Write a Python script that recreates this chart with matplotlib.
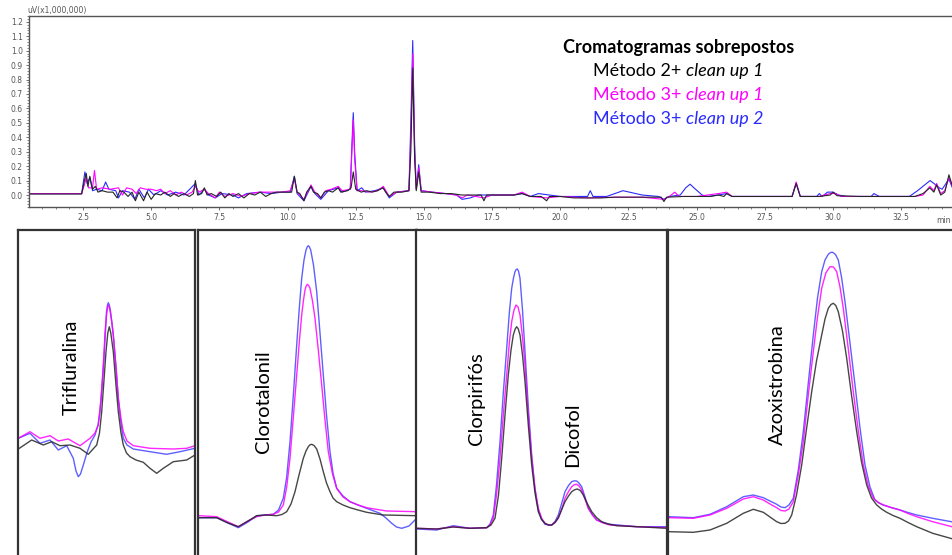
import matplotlib
matplotlib.use("Agg")
import matplotlib.pyplot as plt
from matplotlib.ticker import MultipleLocator

plt.rcParams['font.family'] = ['Lato', 'DejaVu Sans']

# ---- top chromatogram: retention time (min) and signal (uV x 1,000,000)
black_t = [0.52, 2.45, 2.55, 2.62, 2.68, 2.75, 2.85, 2.95, 3.05, 3.2, 3.4, 3.6, 3.75, 3.85, 4.0, 4.15, 4.3, 4.42, 4.55,
           4.72, 4.85, 5.0, 5.15, 5.35, 5.5, 5.7, 5.85, 6.0, 6.2, 6.4, 6.55, 6.62, 6.7, 6.85, 6.95, 7.05, 7.2, 7.4, 7.55,
           7.7, 7.85, 8.0, 8.2, 8.4, 8.6, 8.8, 9.0, 9.2, 9.4, 9.6, 9.8, 10.0, 10.15, 10.25, 10.35, 10.45, 10.6, 10.7,
           10.86, 10.95, 11.1, 11.22, 11.35, 11.5, 11.65, 11.86, 11.95, 12.2, 12.33, 12.41, 12.5, 12.7, 12.9, 13.1,
           13.3, 13.5, 13.6, 13.73, 13.9, 14.2, 14.45, 14.52, 14.59, 14.66, 14.72, 14.81, 14.9, 15.2, 15.6, 16.0, 16.4,
           16.8, 17.1, 17.2, 17.3, 17.8, 18.3, 18.6, 18.9, 19.3, 19.5, 19.6, 20.0, 20.5, 21.0, 21.5, 22.0, 22.5, 23.0,
           23.5, 23.7, 23.8, 23.9, 24.5, 25.0, 25.5, 25.8, 26.0, 26.1, 26.3, 27.0, 28.0, 28.5, 28.65, 28.8, 29.5, 29.9,
           30.0, 30.15, 31.0, 32.0, 33.0, 33.3, 33.55, 33.7, 33.8, 33.95, 34.1, 34.25, 34.4]
black_v = [0.007, 0.007, 0.10, 0.15, 0.06, 0.13, 0.04, 0.06, 0.02, 0.03, 0.02, 0.02, -0.02, 0.03, 0.02, -0.01, 0.02,
           -0.04, 0.02, -0.04, 0.02, -0.03, 0.01, 0.0, 0.02, -0.01, 0.01, -0.01, 0.01, -0.01, 0.01, 0.10, 0.0, 0.01,
           0.05, 0.0, 0.01, -0.01, 0.02, -0.02, 0.01, -0.01, 0.01, -0.02, 0.01, 0.0, 0.02, -0.01, 0.01, 0.02, 0.02, 0.02,
           0.02, 0.13, 0.02, 0.01, -0.04, 0.02, 0.06, 0.02, 0.01, -0.02, 0.02, 0.03, 0.02, 0.05, 0.02, 0.03, 0.05, 0.16,
           0.04, 0.02, 0.03, 0.02, 0.03, 0.05, 0.02, -0.01, 0.02, 0.02, 0.03, 0.30, 0.88, 0.25, 0.03, 0.16, 0.02, 0.02,
           0.01, 0.01, 0.0, 0.0, 0.0, -0.04, 0.0, 0.0, 0.0, 0.01, -0.01, -0.01, -0.04, -0.01, -0.01, -0.02, -0.02,
           -0.02, -0.015, -0.015, -0.015, -0.015, -0.015, -0.045, -0.015, -0.01, -0.01, -0.01, 0.0, -0.01, 0.01, -0.01,
           -0.01, -0.01, -0.01, 0.08, -0.01, -0.01, 0.0, 0.02, -0.005, -0.01, -0.01, -0.01, 0.01, 0.05, 0.02, 0.07,
           0.0, 0.02, 0.14, 0.05]

magenta_t = [0.52, 2.45, 2.55, 2.62, 2.7, 2.85, 2.92, 3.0, 3.2, 3.5, 3.8, 3.95, 4.1, 4.3, 4.45, 4.6, 4.8, 5.0, 5.2,
             5.35, 5.5, 5.7, 5.9, 6.1, 6.3, 6.5, 6.62, 6.75, 6.95, 7.1, 7.35, 7.5, 7.7, 8.0, 8.3, 8.6, 9.0, 9.4, 9.8,
             10.1, 10.25, 10.35, 10.6, 10.86, 11.0, 11.22, 11.4, 11.6, 11.86, 12.0, 12.3, 12.36, 12.41, 12.46, 12.55,
             12.72, 13.0, 13.3, 13.51, 13.73, 14.0, 14.45, 14.52, 14.59, 14.66, 14.72, 14.81, 14.9, 15.3, 15.8, 16.2,
             16.4, 16.6, 17.2, 17.5, 18.3, 18.6, 18.9, 19.5, 20.0, 21.0, 22.0, 23.0, 23.8, 24.0, 24.2, 24.35, 25.0, 25.8,
             26.1, 26.3, 27.5, 28.5, 28.65, 28.8, 29.5, 29.9, 30.1, 30.3, 32.0, 33.0, 33.3, 33.55, 33.7, 33.8, 33.95,
             34.1, 34.25, 34.4]
magenta_v = [0.01, 0.01, 0.07, 0.12, 0.05, 0.05, 0.17, 0.04, 0.05, 0.04, 0.05, 0.0, 0.05, 0.04, 0.01, 0.05, 0.04,
             0.04, 0.03, 0.04, 0.01, 0.03, 0.0, 0.02, 0.0, 0.02, 0.06, 0.02, 0.04, 0.01, -0.02, 0.02, -0.01, 0.01, -0.01,
             0.01, 0.02, 0.02, 0.02, 0.03, 0.11, 0.02, -0.03, 0.07, 0.02, -0.02, 0.03, 0.04, 0.06, 0.03, 0.04, 0.30,
             0.52, 0.25, 0.03, 0.03, 0.02, 0.03, 0.06, -0.01, 0.02, 0.03, 0.40, 0.98, 0.30, 0.04, 0.19, 0.03, 0.02, 0.01,
             0.0, -0.02, 0.0, -0.02, 0.0, 0.0, 0.02, -0.01, -0.02, -0.01, -0.02, -0.015, -0.015, -0.03, -0.01, 0.02,
             -0.01, -0.01, 0.01, 0.02, -0.01, -0.01, -0.01, 0.09, -0.01, -0.01, 0.01, 0.01, -0.01, -0.01, -0.01, 0.0,
             0.06, 0.03, 0.08, 0.01, 0.03, 0.12, 0.05]

blue_t = [0.52, 2.45, 2.57, 2.65, 2.75, 2.85, 3.0, 3.2, 3.33, 3.45, 3.7, 3.8, 3.95, 4.2, 4.4, 4.55, 4.75, 4.9, 5.1,
          5.35, 5.6, 5.9, 6.2, 6.62, 6.75, 6.95, 7.1, 7.35, 7.6, 8.0, 8.2, 8.5, 9.0, 9.4, 9.8, 10.1, 10.25, 10.35, 10.6,
          10.86, 11.0, 11.22, 11.5, 11.86, 12.0, 12.3, 12.36, 12.41, 12.46, 12.55, 12.72, 12.85, 13.2, 13.51, 13.73,
          14.0, 14.45, 14.52, 14.59, 14.66, 14.72, 14.81, 14.9, 15.3, 15.8, 16.2, 16.4, 16.7, 17.0, 17.5, 18.3, 18.6,
          18.9, 19.2, 19.6, 20.0, 20.5, 21.0, 21.1, 21.2, 21.7, 22.3, 23.0, 23.6, 23.8, 24.0, 24.4, 24.6, 24.76, 24.9,
          25.2, 25.4, 25.8, 26.1, 26.3, 27.5, 28.5, 28.65, 28.8, 29.4, 29.5, 29.6, 29.8, 30.0, 30.2, 30.5, 31.4, 31.5,
          31.7, 32.8, 33.1, 33.56, 33.7, 33.9, 34.0, 34.25, 34.4]
blue_v = [0.01, 0.01, 0.16, 0.08, 0.12, 0.03, 0.04, 0.03, 0.09, 0.04, 0.03, -0.02, 0.03, 0.02, -0.03, 0.04, -0.02,
          0.04, 0.0, 0.03, 0.0, 0.02, 0.0, 0.08, 0.0, 0.04, 0.0, -0.02, 0.01, 0.0, -0.02, 0.01, 0.02, 0.01, 0.02, 0.02,
          0.13, 0.01, -0.04, 0.06, 0.01, -0.03, 0.03, 0.05, 0.02, 0.04, 0.35, 0.57, 0.30, 0.03, 0.05, 0.02, 0.03, 0.05,
          -0.02, 0.02, 0.03, 0.50, 1.07, 0.35, 0.04, 0.21, 0.03, 0.02, 0.01, 0.0, -0.03, -0.02, 0.0, 0.0, 0.0, 0.01,
          -0.01, 0.01, 0.0, -0.01, -0.01, -0.01, 0.03, -0.01, -0.01, 0.03, 0.0, -0.01, -0.03, -0.01, 0.0, 0.05, 0.075,
          0.05, 0.0, -0.01, 0.0, 0.01, -0.01, -0.01, -0.01, 0.08, -0.01, -0.01, 0.01, -0.01, 0.02, 0.02, 0.0, -0.01,
          -0.01, 0.01, -0.01, -0.01, 0.03, 0.10, 0.08, 0.05, 0.04, 0.11, 0.04]

# ---- zoomed peaks (relative time, relative intensity)
peak_names = [["Trifluralina"], ["Clorotalonil"], ["Clorpirifós", "Dicofol"], ["Azoxistrobina"]]

p1_black = ([0.3, 13.7, 25.3, 33.7, 42, 52, 62, 70.3, 78.7, 81.5, 83.7, 86, 88, 89.8, 91.3, 92.8, 95.3, 97.8, 100.3,
             103, 105.3, 108.5, 112, 118, 125.3, 132, 138.7, 145.3, 155.3, 168.7, 177],
            [106, 115, 110, 113.3, 109.3, 110, 106.7, 100.7, 110, 122, 143.3, 175, 203.3, 222, 228.3, 222, 203.3,
             172, 143.3, 122, 110, 102, 98.3, 95, 92.7, 86.7, 81.7, 86.7, 93.3, 95, 100])
p1_magenta = ([0.3, 12, 22, 32, 40.3, 50.3, 62, 72, 77, 80.3, 83, 85.3, 87, 88.5, 89.5, 90.3, 91.3, 92.3, 93.8, 95.3,
               98, 100.3, 103, 105.3, 109, 115.3, 132, 155.3, 168.7, 177],
              [116.7, 123.3, 116.7, 119.3, 114, 116, 109.3, 116.7, 122, 130, 156, 190, 222, 240, 247, 250, 248, 243,
               233, 220, 188, 156.7, 136, 123.3, 114, 109.3, 106.7, 106, 106.7, 109.3])
p1_blue = ([0.3, 12, 22, 32, 40.3, 48.7, 55.3, 58, 60.3, 62.5, 65.3, 69.3, 73, 77, 80, 82, 84, 86, 87.5, 88.5, 89.5,
            90.3, 91.3, 92.3, 93.8, 95.3, 98, 100.3, 103, 105.3, 109, 115.3, 132, 148.7, 162, 177],
           [116.7, 121.7, 111.7, 115, 105, 109.3, 96.7, 84, 78.3, 81, 90, 103.3, 113, 120, 130, 143.3, 168, 196.7, 224,
            243, 250, 252.3, 250, 245, 233, 220, 188, 156.7, 132, 116.7, 110, 106, 103.3, 100.7, 103.3, 106.7])

p2_black = ([1.3, 18.7, 30, 40.3, 50, 58.7, 68, 78.7, 84, 88.7, 93, 97, 101, 105.3, 108, 110.3, 112, 113.7, 116,
             118.7, 122, 125.3, 128.5, 132, 135, 138.7, 145, 152, 160, 168.7, 185.3, 218.7],
            [37.3, 37.3, 32, 28.3, 34, 39.3, 40, 39.3, 40.5, 43.3, 51, 63.3, 80, 96.7, 104, 108.3, 110.2, 110.7, 109.5,
             106, 96, 83.3, 72, 63.3, 57, 53.3, 50, 47.3, 45, 42.7, 40, 39.3])
p2_magenta = ([1.3, 18.7, 30, 40.3, 50, 58.7, 67, 75.3, 80.5, 85.3, 88.7, 92, 95.5, 98.7, 101.3, 103.7, 105.5, 107,
               108.2, 109.3, 110.6, 112, 114.5, 117, 120.3, 123.7, 127, 130.3, 134.5, 138.7, 145, 152, 160, 168.7,
               188.7, 218.7],
              [39.3, 38.3, 33, 28.3, 34, 38.3, 40, 40.7, 43, 50, 68, 96.7, 140, 180, 213, 240, 255, 265, 269, 270.7,
               269.5, 266.7, 254, 236.7, 205, 170, 135, 103.3, 81, 66.7, 58, 53.3, 50, 47.3, 44, 43.3])
p2_blue = ([1.3, 18.7, 30, 40.3, 50, 58.7, 67, 75.3, 80.5, 85.3, 88.7, 92, 95.5, 98.7, 101.3, 103.7, 106, 108, 109.2,
            110.3, 111.5, 112.7, 115.5, 118.7, 122, 125.3, 128.5, 132, 135, 138.7, 145, 152, 160, 168.7, 182, 188,
            193.7, 198.5, 203.7, 211, 218.7],
           [37.3, 37.3, 32, 27.3, 33, 39.3, 40, 40.7, 45, 56.7, 78, 113.3, 162, 210, 247, 276.7, 295, 305, 308,
            309.3, 308, 305, 290, 263.3, 222, 180, 140, 103.3, 82, 66.7, 59, 53.3, 50, 46.7, 41.7, 37, 31.7, 28,
            26.7, 29, 36.7])

p3_black = ([0.7, 20.7, 37.3, 54, 70.7, 75, 79, 82.5, 85.7, 89, 92.3, 95, 97.3, 99.2, 100.7, 102.3, 104, 106.5, 109,
             112.3, 115.7, 119, 122.3, 125.5, 129, 132.5, 135.7, 139, 142.3, 145.5, 149, 152.5, 155.7, 158.5, 161.3,
             164.3, 167.3, 171.5, 175.7, 180.5, 185.7, 192, 200.7, 227.3, 251.3],
            [26.7, 26, 28, 26.7, 27.3, 30, 36.7, 60, 96.7, 140, 180, 205, 220, 226, 228.3, 226, 220, 200, 173.3, 130,
             90, 62, 43.3, 35.5, 31.7, 30, 30, 32.5, 37.3, 45, 53.3, 59, 63.3, 65.2, 66, 64.5, 60, 51, 43.3, 37.5, 33.3,
             31, 29.3, 28, 26.7])
p3_magenta = ([0.7, 20.7, 37.3, 54, 70.7, 74, 77.3, 80.5, 84, 87.3, 90.7, 93.3, 95.7, 98, 100, 102, 104, 106.5, 109,
               112.3, 115.7, 119, 122.3, 125.5, 129, 132.5, 135.7, 139, 142.3, 145.5, 149, 152.5, 155.7, 158.2, 160.7,
               163, 165.7, 169, 172.3, 176.5, 180.7, 187, 194, 220.7, 251.3],
              [26.7, 26, 28.3, 26.7, 27.3, 30, 36.7, 60, 96.7, 140, 180, 212, 233.3, 245, 250, 248, 240, 218, 190,
               140, 96.7, 66, 46.7, 37, 31.7, 30, 30, 32.5, 36.7, 45, 56.7, 63.5, 68.3, 70.3, 70.7, 69.2, 65, 56,
               46.7, 40, 35, 32, 30, 28.3, 27.3])
p3_blue = ([0.7, 20.7, 37.3, 54, 70.7, 74, 77.3, 80.5, 84, 87.3, 90.7, 93.3, 95.7, 97.5, 99, 100.2, 101.3, 102.5, 104,
            106.5, 109, 112.3, 115.7, 119, 122.3, 125.5, 129, 132.5, 135.7, 139, 142.3, 145.5, 149, 152.5, 155.7,
            158.2, 160.7, 163, 165.7, 169, 172.3, 176.5, 180.7, 187, 194, 220.7, 251.3],
           [26, 25, 29.3, 26.7, 27.3, 31, 40, 70, 113.3, 162, 206.7, 242, 266.7, 277, 283.3, 285.5, 286, 284, 276.7,
            245, 203.3, 148, 100, 66, 45, 36, 30.7, 30, 30, 33.5, 40, 51, 63.3, 69.5, 73.3, 74.2, 74, 72, 68.3, 58,
            46.7, 40, 35, 32.5, 30.7, 28.3, 28.3])

p4_black = ([1.3, 25.3, 42, 58.7, 75.3, 85.3, 95.3, 102, 108.7, 113, 117, 120.5, 123.7, 128.5, 133.7, 138.5, 143.7,
             148.5, 153.7, 157, 160.3, 163, 165.3, 167.8, 170.3, 174.5, 178.7, 183.5, 188.7, 193.5, 198.7, 203.5,
             208.7, 213.5, 218.7, 225, 232, 240, 248.7, 264.7, 285],
            [23.3, 22.7, 25, 31.7, 41.7, 45.7, 42.7, 38, 33.3, 31.5, 31.7, 34, 40, 60, 90, 126, 163.3, 194, 220, 236,
             246.7, 250.5, 251.7, 249.5, 243.3, 224, 196.7, 160, 123.3, 93, 70, 57, 50, 46, 42.7, 39.5, 36.7, 32.5,
             28.3, 21.7, 16])
p4_magenta = ([1.3, 25.3, 42, 58.7, 75.3, 85.3, 95.3, 102, 108.7, 113, 117, 121, 125.3, 130.3, 135.3, 140.3, 145.3,
               149.5, 153.7, 157.8, 162, 165.5, 168.7, 172, 175.3, 180.3, 185.3, 190.3, 195.3, 200.3, 205.3, 210.3,
               215.3, 223, 232, 240, 248.7, 264.7, 285],
              [37.3, 36.7, 40, 46.7, 56, 58.3, 55, 51, 47.3, 44.5, 44, 46, 53.3, 80, 113.3, 160, 203.3, 238, 266.7,
               282, 288.3, 288, 283.3, 268, 246.7, 206, 163.3, 124, 90, 69, 56.7, 52.5, 50, 47.5, 45, 41.5, 38.3, 33.3,
               28])
p4_blue = ([1.3, 25.3, 42, 58.7, 75.3, 85.3, 95.3, 102, 108.7, 113, 117, 121, 125.3, 130.3, 135.3, 140.3, 145.3, 149.5,
            153.7, 157, 160.3, 162.5, 164.7, 167.5, 170.3, 173.5, 177, 182, 187, 192, 197, 202, 207, 211, 215.3, 223,
            232, 240, 248.7, 264.7, 285],
           [38.3, 37.3, 40.7, 48.3, 58.3, 60, 57.3, 54, 50.7, 48, 47.3, 50, 56.7, 85, 123.3, 172, 220, 257, 283.3, 295,
            300.7, 302.5, 302.7, 300.5, 295, 278, 253.3, 212, 170, 127, 90, 68, 55, 52, 50, 47.5, 45, 42.5, 40, 36.7,
            33])

panels = [(p1_black, p1_magenta, p1_blue), (p2_black, p2_magenta, p2_blue),
          (p3_black, p3_magenta, p3_blue), (p4_black, p4_magenta, p4_blue)]
panel_xmax = [177, 219, 251, 285]

C_BLACK = "#262626"
C_MAG = "#ff00ff"
C_BLUE = "#2a2aff"

W, H = 953, 555
fig = plt.figure(figsize=(W / 100, H / 100), dpi=100)

# ---- top chromatogram
ax = fig.add_axes([29 / W, 1 - 207 / H, 1 - 29 / W, (207 - 16) / H])
ax.plot(blue_t, blue_v, color=C_BLUE, lw=0.8)
ax.plot(magenta_t, magenta_v, color=C_MAG, lw=0.8)
ax.plot(black_t, black_v, color=C_BLACK, lw=0.8)
ax.set_xlim(0.52, 34.4)
ax.set_ylim(-0.083, 1.24)
ax.xaxis.set_major_locator(MultipleLocator(2.5))
ax.xaxis.set_minor_locator(MultipleLocator(0.5))
ax.yaxis.set_major_locator(MultipleLocator(0.1))
ax.yaxis.set_minor_locator(MultipleLocator(0.02))
ax.xaxis.set_major_formatter(plt.FuncFormatter(lambda v, p: "%.1f" % v))
ax.yaxis.set_major_formatter(plt.FuncFormatter(lambda v, p: "%.1f" % v))
ax.tick_params(axis="both", which="major", length=2.5, width=0.6, colors="#555555", labelsize=5.5, pad=2)
ax.tick_params(axis="both", which="minor", length=1.5, width=0.5, colors="#555555")
for lab in ax.get_xticklabels() + ax.get_yticklabels():
    lab.set_family("DejaVu Sans")
ax.spines["right"].set_visible(False)
for s in ["left", "top", "bottom"]:
    ax.spines[s].set_color("#555555")
    ax.spines[s].set_linewidth(1.0)
ax.text(-0.002, 1.003, "uV(x1,000,000)", transform=ax.transAxes, ha="left", va="bottom",
        fontsize=5.5, color="#555555", family="DejaVu Sans")
ax.text(0.998, -0.045, "min", transform=ax.transAxes, ha="right", va="top",
        fontsize=5.5, color="#555555", family="DejaVu Sans")

# legend text
fs = 13
fig.text(563 / W, 1 - 47 / H, "Cromatogramas sobrepostos", fontsize=fs, fontweight="bold", color="black", va="center")
legend_rows = [("Método 2+ ", "clean up 1", "black"), ("Método 3+ ", "clean up 1", C_MAG), ("Método 3+ ", "clean up 2", C_BLUE)]
for i, (a, b, c) in enumerate(legend_rows):
    t1 = fig.text(593 / W, 1 - (71 + 24 * i) / H, a, fontsize=fs, color=c, va="center")
    ax.annotate(b, xy=(1, 0.5), xycoords=t1, va="center", ha="left", fontsize=fs, color=c, style="italic")

# ---- bottom zoomed panels
lefts = [18, 198, 416, 668]
label_pos = [[(71, 415)], [(263, 453)], [(477, 445), (573, 467)], [(777, 445)]]
for k, (bl, mg, bu) in enumerate(panels):
    pax = fig.add_axes([lefts[k] / W, 0, panel_xmax[k] / W, 325 / H])
    pax.plot(bu[0], bu[1], color=C_BLUE, lw=1.0, alpha=0.75)
    pax.plot(mg[0], mg[1], color=C_MAG, lw=1.0, alpha=0.85)
    pax.plot(bl[0], bl[1], color=C_BLACK, lw=1.0, alpha=0.85)
    pax.set_xlim(0, panel_xmax[k])
    pax.set_ylim(0, 325)
    pax.set_xticks([])
    pax.set_yticks([])
    pax.spines["bottom"].set_visible(False)
    if k == 3:
        pax.spines["right"].set_visible(False)
    for s in pax.spines.values():
        s.set_color("#333333")
        s.set_linewidth(1.6)
    for name, (px, py) in zip(peak_names[k], label_pos[k]):
        fig.text(px / W, 1 - py / H, name, rotation=90, ha="center", va="bottom", fontsize=14.5, color="black")

fig.savefig("out.png", dpi=100)
